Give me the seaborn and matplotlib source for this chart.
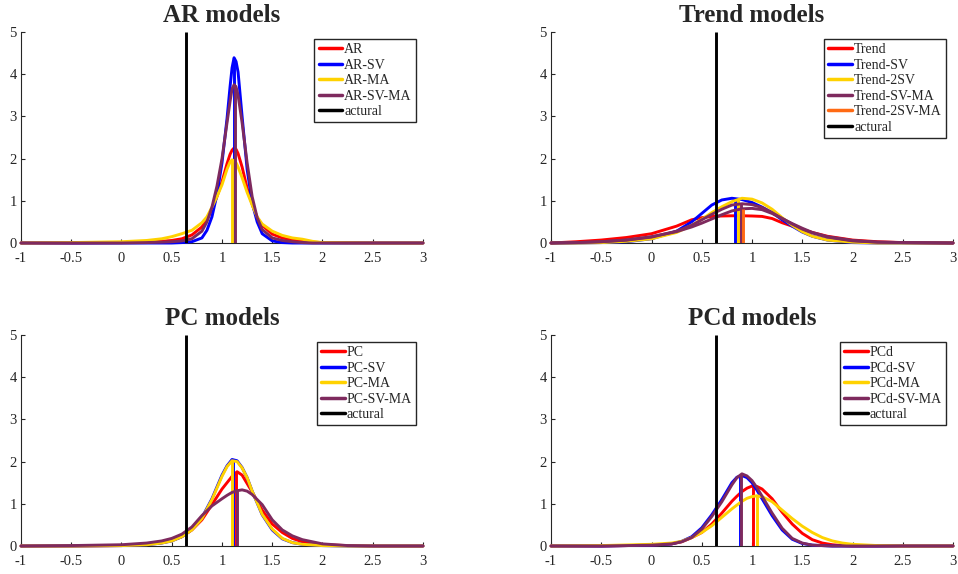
import matplotlib
matplotlib.use("Agg")
import matplotlib.pyplot as plt
import seaborn as sns
from matplotlib.lines import Line2D

sns.set_style("ticks")
plt.rcParams['font.family'] = ['Liberation Serif', 'DejaVu Serif']
plt.rcParams['axes.unicode_minus'] = False

# ---------------- data ----------------
x_ticks = [-1, -0.5, 0, 0.5, 1, 1.5, 2, 2.5, 3]
x_tick_labels = ["-1", "-0.5", "0", "0.5", "1", "1.5", "2", "2.5", "3"]
y_ticks = [0, 1, 2, 3, 4, 5]
actual_value = 0.64

RED, BLUE, YELLOW, PURPLE, ORANGE = "#FF0000", "#0000FF", "#FFD200", "#7E2A5E", "#FF6A13"

# AR models
ar_labels = ["AR", "AR-SV", "AR-MA", "AR-SV-MA"]
ar_x = [-1, -0.5, 0, 0.25, 0.4, 0.5, 0.6, 0.7, 0.8, 0.85, 0.9, 0.95, 1.0, 1.05, 1.08, 1.1,
        1.12, 1.14, 1.16, 1.2, 1.25, 1.3, 1.35, 1.4, 1.5, 1.6, 1.7, 1.8, 1.9, 2.0, 2.5, 3.0]
ar_y = [0, 0, 0.01, 0.02, 0.04, 0.06, 0.1, 0.19, 0.38, 0.55, 0.8, 1.1, 1.45, 1.88, 2.1, 2.2,
        2.25, 2.22, 2.12, 1.8, 1.3, 0.92, 0.6, 0.42, 0.21, 0.12, 0.07, 0.04, 0.02, 0.01, 0, 0]
ar_sv_y = [0, 0, 0, 0, 0, 0, 0.01, 0.03, 0.12, 0.3, 0.62, 1.15, 1.9, 2.95, 3.7, 4.15,
           4.39, 4.3, 4.05, 3.0, 1.75, 0.95, 0.5, 0.22, 0.05, 0.01, 0, 0, 0, 0, 0, 0]
ar_ma_y = [0, 0.01, 0.03, 0.06, 0.1, 0.15, 0.22, 0.3, 0.48, 0.62, 0.85, 1.1, 1.38, 1.75, 1.92, 1.97,
           1.95, 1.9, 1.8, 1.55, 1.2, 0.9, 0.62, 0.45, 0.28, 0.18, 0.12, 0.09, 0.04, 0.01, 0, 0]
ar_sv_ma_y = [0, 0, 0, 0.01, 0.02, 0.03, 0.05, 0.1, 0.28, 0.5, 0.85, 1.35, 2.0, 2.85, 3.35, 3.65,
              3.75, 3.7, 3.5, 2.85, 1.9, 1.1, 0.6, 0.32, 0.12, 0.06, 0.03, 0.01, 0, 0, 0, 0]
ar_mean = [1.12, 1.12, 1.095, 1.125]
ar_mean_height = [2.25, 4.39, 1.96, 3.75]

# Trend models
trend_labels = ["Trend", "Trend-SV", "Trend-2SV", "Trend-SV-MA", "Trend-2SV-MA"]
trend_x = [-1, -0.75, -0.5, -0.25, 0, 0.25, 0.4, 0.5, 0.6, 0.7, 0.8, 0.9, 1.0, 1.1, 1.2,
           1.3, 1.4, 1.5, 1.6, 1.75, 2.0, 2.25, 2.5, 3.0]
trend_y = [0, 0.03, 0.07, 0.13, 0.22, 0.4, 0.55, 0.6, 0.63, 0.64, 0.645, 0.645, 0.64, 0.63, 0.58,
           0.48, 0.4, 0.32, 0.25, 0.16, 0.07, 0.03, 0.01, 0]
trend_sv_y = [0, 0, 0.01, 0.03, 0.1, 0.28, 0.5, 0.7, 0.9, 1.02, 1.06, 1.03, 0.96, 0.85, 0.72,
              0.55, 0.4, 0.26, 0.16, 0.07, 0.01, 0, 0, 0]
trend_2sv_y = [0, 0, 0.01, 0.04, 0.1, 0.25, 0.42, 0.56, 0.72, 0.86, 0.98, 1.06, 1.04, 0.95, 0.8,
               0.6, 0.42, 0.27, 0.16, 0.07, 0.02, 0, 0, 0]
trend_sv_ma_y = [0, 0.01, 0.03, 0.07, 0.14, 0.28, 0.42, 0.55, 0.68, 0.8, 0.9, 0.93, 0.91, 0.84, 0.72,
                 0.58, 0.45, 0.33, 0.24, 0.14, 0.05, 0.02, 0.01, 0]
trend_2sv_ma_y = [0, 0.01, 0.03, 0.07, 0.15, 0.27, 0.38, 0.47, 0.57, 0.67, 0.76, 0.81, 0.82, 0.79, 0.7,
                  0.58, 0.46, 0.35, 0.25, 0.15, 0.06, 0.02, 0.01, 0]
trend_mean = [0.868, 0.835, 0.865, 0.888, 0.912]
trend_mean_height = [0.645, 1.04, 1.05, 0.93, 0.8]

# PC models
pc_labels = ["PC", "PC-SV", "PC-MA", "PC-SV-MA"]
pc_x = [-1, -0.5, 0, 0.25, 0.4, 0.5, 0.6, 0.7, 0.8, 0.9, 1.0, 1.05, 1.1, 1.15, 1.2, 1.25,
        1.3, 1.4, 1.5, 1.6, 1.7, 1.8, 2.0, 2.25, 2.5, 3.0]
pc_y = [0, 0, 0.01, 0.04, 0.08, 0.13, 0.22, 0.38, 0.62, 0.98, 1.35, 1.5, 1.65, 1.76, 1.68, 1.48,
        1.28, 0.85, 0.52, 0.32, 0.18, 0.1, 0.03, 0.01, 0, 0]
pc_sv_y = [0, 0, 0.01, 0.03, 0.07, 0.12, 0.22, 0.39, 0.67, 1.12, 1.68, 1.9, 2.05, 2.02, 1.86, 1.62,
           1.3, 0.74, 0.38, 0.17, 0.08, 0.04, 0.01, 0, 0, 0]
pc_ma_y = [0, 0, 0.01, 0.03, 0.07, 0.12, 0.22, 0.38, 0.65, 1.1, 1.65, 1.88, 2.02, 2.0, 1.85, 1.62,
           1.3, 0.75, 0.4, 0.18, 0.08, 0.04, 0.01, 0, 0, 0]
pc_sv_ma_y = [0, 0.01, 0.03, 0.07, 0.12, 0.18, 0.28, 0.45, 0.72, 0.95, 1.12, 1.2, 1.27, 1.31, 1.33, 1.3,
              1.22, 0.98, 0.62, 0.38, 0.24, 0.15, 0.05, 0.01, 0, 0]
pc_mean = [1.14, 1.105, 1.10, 1.148]
pc_mean_height = [1.75, 2.04, 2.02, 1.3]

# PCd models
pcd_labels = ["PCd", "PCd-SV", "PCd-MA", "PCd-SV-MA"]
pcd_x = [-1, -0.5, 0, 0.2, 0.3, 0.4, 0.5, 0.6, 0.7, 0.8, 0.85, 0.9, 0.95, 1.0, 1.05, 1.1,
         1.2, 1.3, 1.4, 1.5, 1.6, 1.7, 1.8, 1.9, 2.0, 2.25, 2.5, 3.0]
pcd_y = [0, 0, 0.02, 0.05, 0.1, 0.2, 0.32, 0.52, 0.78, 1.06, 1.18, 1.29, 1.37, 1.42, 1.41, 1.35,
         1.12, 0.8, 0.52, 0.3, 0.15, 0.07, 0.03, 0.01, 0, 0, 0, 0]
pcd_sv_y = [0, 0, 0.02, 0.05, 0.11, 0.22, 0.43, 0.74, 1.1, 1.5, 1.63, 1.67, 1.62, 1.5, 1.32, 1.12,
            0.72, 0.38, 0.16, 0.06, 0.02, 0.01, 0, 0, 0, 0, 0, 0]
pcd_ma_y = [0, 0.01, 0.04, 0.07, 0.11, 0.2, 0.32, 0.48, 0.68, 0.88, 0.97, 1.06, 1.13, 1.17, 1.19, 1.17,
            1.05, 0.85, 0.65, 0.47, 0.32, 0.2, 0.12, 0.07, 0.04, 0.01, 0, 0]
pcd_sv_ma_y = [0, 0, 0.02, 0.05, 0.1, 0.2, 0.4, 0.7, 1.05, 1.45, 1.62, 1.71, 1.66, 1.55, 1.38, 1.18,
               0.78, 0.42, 0.18, 0.07, 0.02, 0.01, 0, 0, 0, 0, 0, 0]
pcd_mean = [1.01, 0.88, 1.045, 0.888]
pcd_mean_height = [1.42, 1.67, 1.18, 1.71]

panels = [
    ("AR models", ar_labels, ar_x, [ar_y, ar_sv_y, ar_ma_y, ar_sv_ma_y],
     [RED, BLUE, YELLOW, PURPLE], [RED, BLUE, YELLOW, PURPLE], ar_mean, ar_mean_height),
    ("Trend models", trend_labels, trend_x,
     [trend_y, trend_sv_y, trend_2sv_y, trend_sv_ma_y, trend_2sv_ma_y],
     [RED, BLUE, YELLOW, PURPLE, PURPLE], [RED, BLUE, YELLOW, PURPLE, ORANGE],
     trend_mean, trend_mean_height),
    ("PC models", pc_labels, pc_x, [pc_y, pc_sv_y, pc_ma_y, pc_sv_ma_y],
     [RED, BLUE, YELLOW, PURPLE], [RED, BLUE, YELLOW, PURPLE], pc_mean, pc_mean_height),
    ("PCd models", pcd_labels, pcd_x, [pcd_y, pcd_sv_y, pcd_ma_y, pcd_sv_ma_y],
     [RED, BLUE, YELLOW, PURPLE], [RED, BLUE, YELLOW, PURPLE], pcd_mean, pcd_mean_height),
]

# ---------------- layout ----------------
W, H = 958, 574
fig = plt.figure(figsize=(W / 100, H / 100), dpi=100)
ax_w, ax_h = 402 / W, 211 / H
positions = [(21 / W, 1 - 243 / H), (551 / W, 1 - 243 / H),
             (21 / W, 1 - 546 / H), (551 / W, 1 - 546 / H)]
AXCOL = "#262626"

for (title, labels, xs, ys_list, curve_cols, mark_cols, means, heights), pos in zip(panels, positions):
    ax = fig.add_axes([pos[0], pos[1], ax_w, ax_h])
    for ys, cc, mc, m, h in zip(ys_list, curve_cols, mark_cols, means, heights):
        sns.lineplot(x=xs, y=ys, ax=ax, color=cc, linewidth=2.1, estimator=None,
                     sort=False, clip_on=False, zorder=3)
        ax.vlines(m, 0, h, colors=mc, linewidth=2.1, zorder=3)
    ax.vlines(actual_value, 0, 5, colors="black", linewidth=2.1, zorder=4)

    ax.set_xlim(-1, 3)
    ax.set_ylim(0, 5)
    ax.set_xticks(x_ticks)
    ax.set_xticklabels(x_tick_labels)
    ax.set_yticks(y_ticks)
    ax.set_yticklabels([str(v) for v in y_ticks])
    ax.tick_params(direction="in", length=3, width=0.8, colors=AXCOL, labelsize=10.5)
    ax.tick_params(axis="x", pad=6.5)
    ax.tick_params(axis="y", pad=3)
    for s in ["top", "right"]:
        ax.spines[s].set_visible(False)
    for s in ["left", "bottom"]:
        ax.spines[s].set_color(AXCOL)
        ax.spines[s].set_linewidth(0.8)
    ax.set_xlabel("")
    ax.set_ylabel("")
    ax.set_title(title, fontsize=18, fontweight="bold", pad=7)

    handles = [Line2D([], [], color=c, linewidth=2.5) for c in mark_cols]
    handles.append(Line2D([], [], color="black", linewidth=2.5))
    leg = ax.legend(handles, labels + ["actural"], loc="upper right",
                    bbox_to_anchor=(1 - 7 / 402, 1 - 7 / 211), borderaxespad=0,
                    fontsize=10, frameon=True, fancybox=False, framealpha=1,
                    edgecolor="#262626", handlelength=1.7, handletextpad=0.15,
                    labelspacing=0.18, borderpad=0.3)
    leg.get_frame().set_linewidth(1.0)

fig.savefig("out.png", dpi=100)
